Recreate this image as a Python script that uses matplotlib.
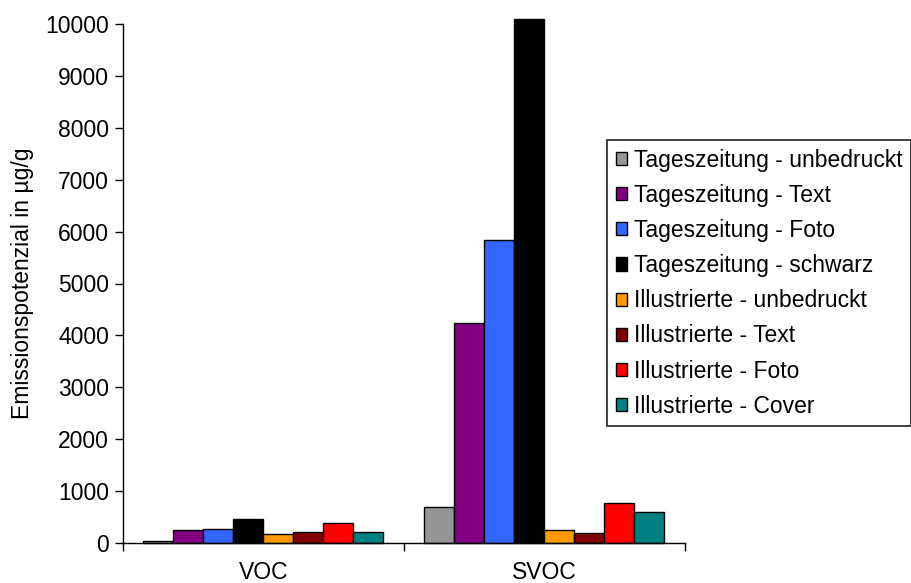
import matplotlib
matplotlib.use("Agg")
import matplotlib.pyplot as plt
import numpy as np

categories = ["VOC", "SVOC"]
series_names = [
    "Tageszeitung - unbedruckt",
    "Tageszeitung - Text",
    "Tageszeitung - Foto",
    "Tageszeitung - schwarz",
    "Illustrierte - unbedruckt",
    "Illustrierte - Text",
    "Illustrierte - Foto",
    "Illustrierte - Cover",
]
voc_values = [30, 245, 270, 455, 175, 205, 390, 205]
svoc_values = [690, 4240, 5840, 10100, 260, 200, 780, 595]
colors = ["#969696", "#800080", "#3366FF", "#000000",
          "#FF9900", "#800000", "#FF0000", "#008080"]
yticks = list(range(0, 10001, 1000))

plt.rcParams['font.family'] = ['Liberation Sans', 'DejaVu Sans']
W, H = 911, 583
fig = plt.figure(figsize=(W / 100, H / 100), dpi=100)
ax = fig.add_axes([123 / W, (H - 543) / H, (685 - 123) / W, (543 - 24) / H])

FS = 16.5
n = len(series_names)
bw = 30 / 281
x = np.arange(len(categories))
for i, name in enumerate(series_names):
    vals = [voc_values[i], svoc_values[i]]
    offs = (i - (n - 1) / 2) * bw
    bars = ax.bar(x + offs, vals, width=bw, color=colors[i], edgecolor="black",
                  linewidth=1.0, label=name)
    for b in bars:
        b.set_clip_on(False)

ax.set_xlim(-0.5, 1.5)
ax.set_ylim(0, 10000)
ax.set_yticks(yticks)
ax.set_yticklabels([str(v) for v in yticks])
ax.set_xticks(x)
ax.set_xticklabels(categories)
ax.set_xticks([-0.5, 0.5, 1.5], minor=True)
ax.tick_params(axis='x', which='major', length=0, pad=13, labelsize=FS)
ax.tick_params(axis='x', which='minor', length=6, direction='out', width=1)
ax.tick_params(axis='y', length=6, direction='out', width=1, labelsize=FS, pad=4)
for s in ["top", "right"]:
    ax.spines[s].set_visible(False)
for s in ["left", "bottom"]:
    ax.spines[s].set_linewidth(1.0)
ax.set_ylabel("Emissionspotenzial in µg/g", fontsize=FS, labelpad=8)

leg = ax.legend(loc="upper left", bbox_to_anchor=(607 / W, 1 - 140 / H),
                bbox_transform=fig.transFigure, fontsize=FS, frameon=True,
                fancybox=False, edgecolor="black", borderaxespad=0,
                handlelength=0.5, handleheight=0.5, handletextpad=0.3,
                labelspacing=0.53, borderpad=0.38)
leg.get_frame().set_linewidth(1.3)

fig.savefig("out.png", dpi=100)
